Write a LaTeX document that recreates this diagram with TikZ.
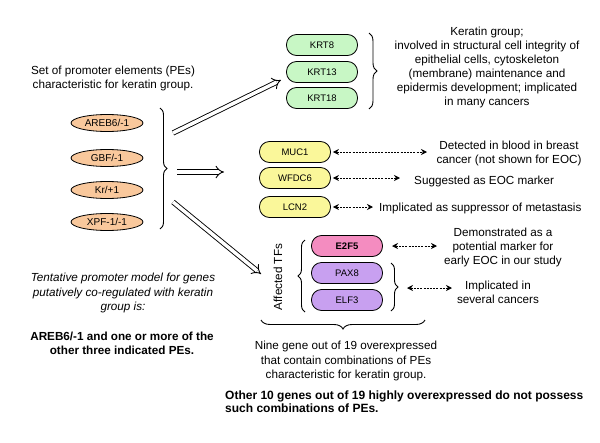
\documentclass[tikz,border=0pt]{standalone}
\usepackage{fontspec}
\setmainfont{Liberation Sans}
\usetikzlibrary{arrows.meta,decorations.pathreplacing,shapes.geometric}

\definecolor{peorange}{HTML}{F9C89C}
\definecolor{krtgreen}{HTML}{C8F7C5}
\definecolor{markyellow}{HTML}{FAF79A}
\definecolor{tfpink}{HTML}{F48CC0}
\definecolor{tfpurple}{HTML}{C8A0F0}

\begin{document}
\begin{tikzpicture}
[x=1pt,y=-1pt,
  pedecorate/.style={shape=ellipse,draw,thick,fill=peorange,minimum width=72pt,minimum height=17pt,inner sep=0pt,font=\fontsize{10}{11}\selectfont},%
  genedecorate/.style={shape=rectangle,rounded corners=10pt,draw,thick,minimum width=71pt,minimum height=21pt,inner sep=0pt,font=\fontsize{9.5}{10}\selectfont},%
  bigarrow/.style={double,double distance=3.5pt,line width=0.9pt,-{Implies[scale=1.5]}},%
  dotarrow/.style={dash pattern=on 2pt off 1.2pt,line width=0.9pt,{Stealth[length=6pt,width=6pt]}-{Stealth[length=6pt,width=6pt]}},%
  bracedecorate/.style={decorate,decoration={brace,amplitude=7pt},line width=0.9pt},%
  textdecorate/.style={align=center,font=\fontsize{11.7}{14}\selectfont,inner sep=0pt}]
\useasboundingbox (0,0) rectangle (600,442);
%% promoter elements
\foreach \nodename/\pelabel/\y in {areb/{AREB6/-1}/123, gbf/{GBF/-1}/158,
  kr/{Kr/+1}/190, xpf/{XPF-1/-1}/222} {
  \node (\nodename) at (107,\y) [pedecorate] {\pelabel};
}
%% gene boxes
\foreach \nodename/\y in {KRT8/45, KRT13/72, KRT18/98} {
  \node (\nodename) at (322,\y) [genedecorate,fill=krtgreen] {\nodename};
}
\foreach \nodename/\y in {MUC1/152, WFDC6/178, LCN2/207} {
  \node (\nodename) at (295,\y) [genedecorate,fill=markyellow] {\nodename};
}
\node (E2F5) at (347,246) [genedecorate,fill=tfpink,font=\fontsize{9.5}{10}\selectfont\bfseries] {E2F5};
\foreach \nodename/\y in {PAX8/273, ELF3/300} {
  \node (\nodename) at (347,\y) [genedecorate,fill=tfpurple] {\nodename};
}
%% texts
\node (setpe) at (113,78) [textdecorate] {Set of promoter elements (PEs)\\characteristic for keratin group.};
\node (keratin) at (487,67) [textdecorate] {Keratin group;\\involved in structural cell integrity of\\epithelial cells, cytoskeleton\\(membrane) maintenance and\\epidermis development; implicated\\in many cancers};
\node (detect) at (509,153) [textdecorate] {Detected in blood in breast\\cancer (not shown for EOC)};
\node (suggest) at (414,181) [textdecorate,anchor=west] {Suggested as EOC marker};
\node (suppress) at (379,208) [textdecorate,anchor=west] {Implicated as suppressor of metastasis};
\node (demon) at (503,247) [textdecorate] {Demonstrated as a\\potential marker for\\early EOC in our study};
\node (several) at (498,292) [textdecorate] {Implicated in\\several cancers};
\node (affected) at (278,277) [textdecorate,rotate=90] {Affected TFs};
\node (tentative) at (123,293) [textdecorate,font=\fontsize{11.7}{14.5}\selectfont\itshape] {Tentative promoter model for genes\\putatively co-regulated with keratin\\group is:};
\node (model) at (122,343) [textdecorate,font=\fontsize{11.7}{14}\selectfont\bfseries] {AREB6/-1 and one or more of the\\other three indicated PEs.};
\node (nine) at (346,361) [textdecorate,font=\fontsize{11.7}{14.5}\selectfont] {Nine gene out of 19 overexpressed\\that contain combinations of PEs\\characteristic for keratin group.};
\node (other) at (225,402) [textdecorate,anchor=west,align=left,font=\fontsize{12}{13}\selectfont\bfseries] {Other 10 genes out of 19 highly overexpressed do not possess\\such combinations of PEs.};
%% braces
\draw[bracedecorate] (160,108) -- (160,229);
\draw[bracedecorate,decoration={amplitude=8pt}] (369,33) -- (369,109);
\draw[bracedecorate] (305,312) -- (305,240);
\draw[bracedecorate] (391,263) -- (391,311);
\draw[bracedecorate,decoration={amplitude=9pt}] (425,320) -- (261,320);
%% hollow arrows
\coordinate (krtarrow) at (281,80);
\coordinate (markarrow) at (224,172);
\coordinate (tfarrow) at (261,274);
\draw[bigarrow] (173,133) -- (krtarrow);
\draw[bigarrow] (177,172) -- (markarrow);
\draw[bigarrow] (173,202) -- (tfarrow);
%% dotted arrows
\coordinate (muctip) at (427,152);
\coordinate (wfdctip) at (400,178);
\coordinate (lcntip) at (373,207);
\coordinate (e2fstart) at (392,246);
\coordinate (e2ftip) at (437,246);
\coordinate (paxstart) at (407,288);
\coordinate (paxtip) at (452,288);
\path
\foreach \startnode/\endnode in {MUC1.east/muctip, WFDC6.east/wfdctip, LCN2.east/lcntip} {
  (\startnode) edge[dotarrow,shorten <=2pt] (\endnode)
};
\draw[dotarrow] (e2fstart) -- (e2ftip);
\draw[dotarrow] (paxstart) -- (paxtip);
\end{tikzpicture}
\end{document}
